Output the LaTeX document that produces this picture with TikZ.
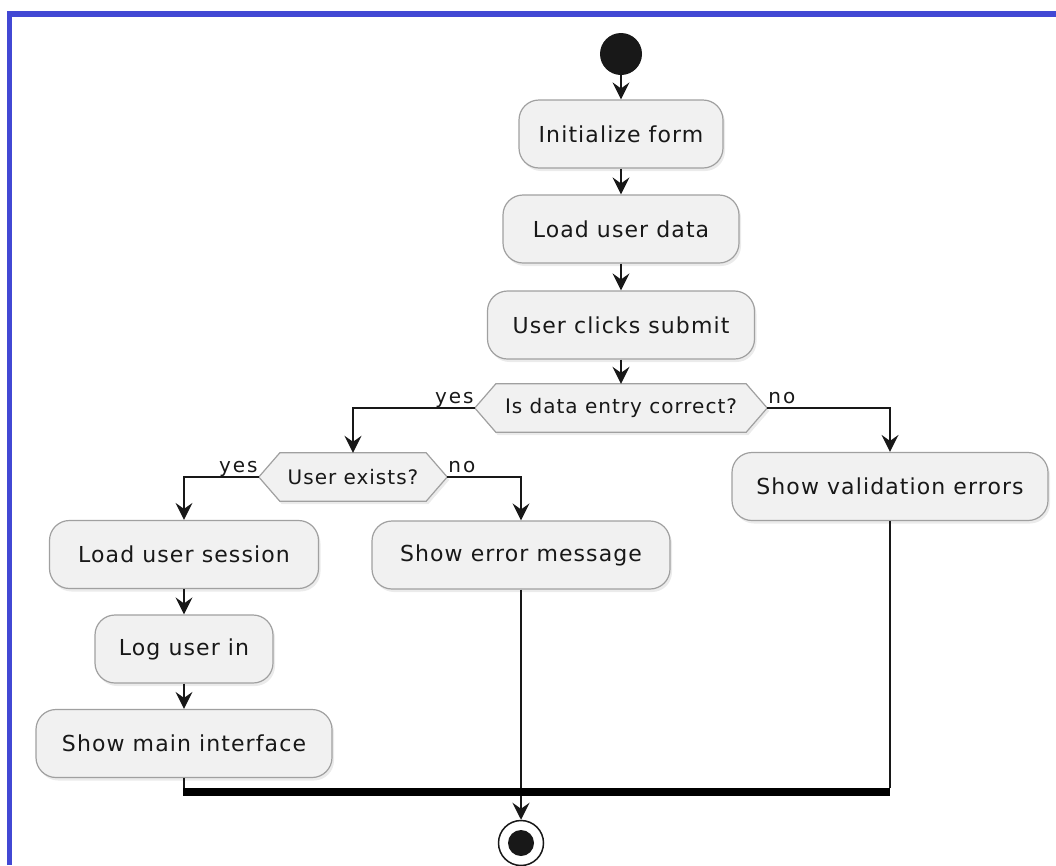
\documentclass[tikz,border=0pt]{standalone}
\usepackage{fontspec}
\setmainfont{DejaVu Sans}
\newfontfamily\actfont[LetterSpace=5]{DejaVu Sans}
\newfontfamily\lblfont[LetterSpace=10]{DejaVu Sans}
\usetikzlibrary{arrows.meta,shadows,backgrounds}
\definecolor{framecol}{RGB}{66,72,212}
\definecolor{boxfill}{RGB}{241,241,241}
\definecolor{boxline}{RGB}{160,160,160}
\definecolor{ink}{RGB}{24,24,24}

% flat-topped hexagon around a decision node, slant in pt
\newcommand\hexoutline[2]{%
  \draw[hexa] (#1.west) -- ([xshift=#2]#1.north west) -- ([xshift=-#2]#1.north east)
    -- (#1.east) -- ([xshift=-#2]#1.south east) -- ([xshift=#2]#1.south west) -- cycle;}

\begin{document}
\begin{tikzpicture}[x=1pt,y=-1pt,
  shade/.style={drop shadow={opacity=0.16,shadow xshift=2pt,shadow yshift=-3pt}},
  act/.style={draw=boxline,line width=1.2pt,fill=boxfill,rounded corners=20pt,
    minimum height=68pt,inner sep=0pt,text=ink,shade,
    font=\actfont\fontsize{22}{26}\selectfont},
  dec/.style={rectangle,minimum height=48pt,inner sep=0pt,text=ink,
    font=\actfont\fontsize{20}{24}\selectfont},
  hexa/.style={draw=boxline,line width=1.2pt,fill=boxfill,shade},
  lbl/.style={inner sep=0pt,text=ink,font=\lblfont\fontsize{20}{24}\selectfont},
  flow/.style={draw=ink,line width=1.6pt},
  arr/.style={flow,-{Stealth[length=17pt,width=17pt,inset=6pt]}},
  frame/.style={draw=framecol,line width=5.5pt},
  dot/.style={circle,fill=ink,inner sep=0pt,minimum size=42pt},
  joinbar/.style={rectangle,fill=black,inner sep=0pt,minimum height=8pt}
]
\useasboundingbox (0,0) rectangle (1056,865);

% frame
\draw[frame] (9.5,865) -- (9.5,14) -- (1056,14);

% activities
\node[dot] (start) at (621,54) {};
\node[act,minimum width=204pt] (init) at (621,134) {Initialize form};
\node[act,minimum width=236pt] (load) at (621,229) {Load user data};
\node[act,minimum width=267pt] (submit) at (621,325) {User clicks submit};
\node[dec,minimum width=292pt] (d1) at (621,408) {Is data entry correct?};
\node[dec,minimum width=188pt] (d2) at (353,477) {User exists?};
\node[act,minimum width=316pt] (valerr) at (890,486.5) {Show validation errors};
\node[act,minimum width=269pt] (session) at (184,554.5) {Load user session};
\node[act,minimum width=298pt] (showerr) at (521,555) {Show error message};
\node[act,minimum width=178pt] (login) at (184,649) {Log user in};
\node[act,minimum width=296pt] (mainif) at (184,743.5) {Show main interface};
\node[joinbar,minimum width=707pt] (join) at (536.5,792) {};
\node[circle,draw=ink,line width=1.5pt,fill=white,inner sep=0pt,minimum size=45pt] (stop) at (521,843) {};
\fill[ink] (stop.center) circle (13);

\begin{scope}[on background layer]
  \hexoutline{d1}{21pt}
  \hexoutline{d2}{21pt}
\end{scope}

% branch labels
\node[lbl,anchor=base east] at ([xshift=-1pt,yshift=5pt]d1.west) {yes};
\node[lbl,anchor=base west] at ([xshift=1pt,yshift=5pt]d1.east) {no};
\node[lbl,anchor=base east] at ([xshift=-1pt,yshift=5pt]d2.west) {yes};
\node[lbl,anchor=base west] at ([xshift=1pt,yshift=5pt]d2.east) {no};

% connectors
\draw[arr] (start) -- (init);
\draw[arr] (init) -- (load);
\draw[arr] (load) -- (submit);
\draw[arr] (submit) -- (d1.north);
\draw[arr] (d1.west) -| (d2.north);
\draw[arr] (d1.east) -| (valerr.north);
\draw[arr] (d2.west) -| (session.north);
\draw[arr] (d2.east) -| (showerr.north);
\draw[arr] (session) -- (login);
\draw[arr] (login) -- (mainif);
\draw[flow] (mainif.south) -- (mainif.south |- join.north);
\draw[flow] (showerr.south) -- (showerr.south |- join.north);
\draw[flow] (valerr.south) -- (valerr.south |- join.north);
\draw[arr] (join.south -| stop.north) -- (stop.north);
\end{tikzpicture}
\end{document}
